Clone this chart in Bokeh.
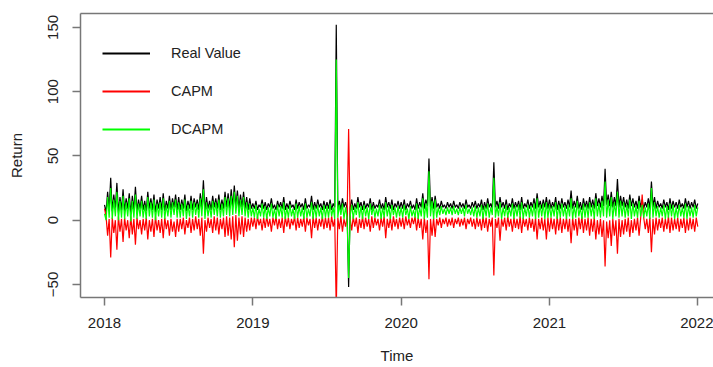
from bokeh.plotting import figure
from bokeh.models import Range1d, FixedTicker, LinearAxis, Legend, LegendItem
from bokeh.embed import file_html
from bokeh.resources import INLINE

# ---- data (one value every 1/96 year from 2018.0) ----
START_YEAR = 2018
STEPS_PER_YEAR = 96

real_value = [
    # 2018 H1
    12, 6, 22, 8, 33, 7, 20, 9, 29, 6, 18, 8,
    24, 7, 17, 9, 21, 5, 19, 8, 26, 7, 16, 9,
    19, 8, 15, 7, 22, 9, 17, 8, 20, 6, 16, 9,
    18, 8, 21, 7, 15, 9, 19, 8, 17, 10, 20, 8,
    # 2018 H2
    18, 8, 16, 9, 20, 7, 15, 9, 19, 8, 17, 10,
    16, 8, 21, 9, 31, 7, 18, 9, 15, 8, 19, 10,
    17, 9, 20, 8, 16, 9, 22, 10, 21, 9, 24, 10,
    27, 11, 23, 9, 20, 10, 22, 9, 18, 8, 17, 9,
    # 2019 H1
    13, 9, 15, 8, 12, 10, 16, 9, 14, 8, 13, 10,
    17, 9, 12, 8, 15, 10, 14, 9, 18, 8, 13, 9,
    15, 10, 12, 8, 16, 9, 14, 10, 13, 8, 17, 9,
    12, 10, 19, 8, 14, 9, 16, 10, 13, 8, 15, 9,
    # 2019 H2
    14, 9, 16, 8, 13, 10, 152, 9, 15, 8, 17, 10,
    14, 9, -52, 10, 16, 8, 13, 9, 18, 10, 14, 8,
    15, 9, 13, 10, 17, 8, 14, 9, 12, 10, 16, 9,
    13, 8, 18, 10, 14, 9, 16, 8, 13, 10, 15, 9,
    # 2020 H1
    14, 9, 16, 8, 13, 10, 15, 9, 12, 8, 17, 9,
    14, 10, 21, 9, 16, 11, 48, 10, 18, 9, 19, 10,
    13, 9, 15, 10, 12, 9, 14, 10, 13, 9, 15, 10,
    12, 9, 14, 10, 13, 9, 16, 10, 12, 9, 14, 10,
    # 2020 H2
    15, 9, 13, 10, 16, 8, 14, 9, 17, 10, 13, 9,
    45, 10, 15, 9, 18, 10, 14, 9, 16, 8, 13, 10,
    17, 9, 14, 10, 15, 8, 18, 9, 13, 10, 16, 9,
    14, 10, 17, 9, 21, 10, 15, 9, 16, 10, 18, 9,
    # 2021 H1
    16, 9, 14, 10, 18, 8, 15, 9, 17, 10, 14, 9,
    16, 10, 23, 9, 15, 10, 19, 9, 14, 8, 17, 10,
    15, 9, 18, 10, 16, 9, 21, 11, 17, 10, 19, 11,
    40, 12, 20, 11, 22, 10, 18, 11, 32, 10, 19, 11,
    # 2021 H2
    18, 10, 16, 9, 20, 11, 17, 10, 15, 9, 19, 10,
    16, 9, 14, 10, 17, 9, 30, 10, 18, 9, 15, 10,
    13, 9, 16, 10, 14, 8, 17, 9, 15, 10, 14, 9,
    16, 10, 13, 9, 17, 10, 15, 9, 14, 10, 16, 9,
    13,
]

capm = [
    # 2018 H1
    9, 3, -12, 1, -29, 2, -10, 0, -23, 3, -9, 1,
    -17, 2, -8, 0, -14, 3, -11, 1, -19, 2, -7, 0,
    -11, 1, -8, 2, -15, 0, -9, 1, -13, 3, -8, 0,
    -10, 1, -14, 2, -7, 0, -12, 1, -9, -1, -13, 1,
    # 2018 H2
    -9, 1, -7, 2, -11, 0, -6, 2, -10, 1, -8, 3,
    -7, 1, -12, 2, -26, 0, -9, 2, -6, 1, -10, 3,
    -8, 2, -11, 1, -7, 2, -13, 3, -12, 2, -15, 3,
    -21, 4, -16, 2, -11, 3, -13, 2, -9, 1, -8, 2,
    # 2019 H1
    -5, 2, -7, 3, -4, 1, -8, 2, -6, 3, -5, 1,
    -9, 2, -4, 3, -7, 1, -6, 2, -10, 3, -5, 2,
    -7, 1, -4, 3, -8, 2, -6, 1, -5, 3, -9, 2,
    -4, 1, -14, 3, -6, 2, -8, 1, -5, 3, -7, 2,
    # 2019 H2
    -6, 2, -8, 3, -5, 1, -70, 2, -7, 3, -9, 1,
    -5, 2, 71, 1, -8, 3, -5, 2, -10, 1, -6, 3,
    -7, 2, -5, 1, -9, 3, -6, 2, -4, 1, -8, 2,
    -5, 3, -14, 1, -6, 2, -8, 3, -5, 1, -7, 2,
    # 2020 H1
    -5, 2, -7, 3, -4, 1, -6, 2, -3, 3, -8, 2,
    -6, 1, -15, 2, -10, 0, -46, 1, -12, 2, -13, 1,
    -4, 2, -6, 1, -3, 2, -5, 1, -4, 2, -6, 1,
    -3, 2, -5, 1, -4, 2, -7, 1, -3, 2, -5, 1,
    # 2020 H2
    -7, 2, -5, 1, -8, 3, -6, 2, -9, 1, -5, 2,
    -43, 1, -6, 2, -16, 1, -5, 2, -8, 3, -5, 1,
    -9, 2, -6, 1, -7, 3, -10, 2, -5, 1, -8, 2,
    -6, 1, -9, 2, -15, 1, -7, 2, -8, 1, -15, 2,
    # 2021 H1
    -9, 2, -7, 1, -11, 3, -8, 2, -10, 1, -7, 2,
    -9, 1, -18, 2, -8, 1, -12, 2, -7, 3, -10, 1,
    -8, 2, -12, 1, -9, 2, -15, 0, -11, 1, -13, 0,
    -36, -1, -14, 0, -20, 1, -12, 0, -26, 1, -13, 0,
    # 2021 H2
    -11, 1, -9, 2, -13, 0, -10, 1, -8, 2, -12, 1,
    20, 2, -7, 1, -10, 2, -25, 1, -11, 2, -8, 1,
    -6, 2, -9, 1, -7, 3, -10, 2, -8, 1, -7, 2,
    -9, 1, -6, 2, -10, 1, -8, 2, -7, 1, -9, 2,
    -5,
]

dcapm = [
    # 2018 H1
    5, 0, 18, 2, 25, 1, 16, 3, 22, 0, 15, 2,
    19, 1, 14, 3, 17, -1, 15, 2, 20, 1, 13, 3,
    15, 2, 12, 1, 18, 3, 14, 2, 16, 0, 13, 3,
    14, 2, 17, 1, 12, 3, 15, 2, 14, 4, 16, 2,
    # 2018 H2
    14, 2, 13, 3, 16, 1, 12, 3, 15, 2, 14, 4,
    13, 2, 17, 3, 24, 1, 14, 3, 12, 2, 15, 4,
    14, 3, 16, 2, 13, 3, 18, 4, 17, 3, 19, 4,
    22, 5, 19, 3, 16, 4, 18, 3, 14, 2, 13, 3,
    # 2019 H1
    10, 2, 12, 1, 9, 3, 13, 2, 11, 1, 10, 3,
    13, 2, 9, 1, 12, 3, 11, 2, 14, 1, 10, 2,
    12, 3, 9, 1, 13, 2, 11, 3, 10, 1, 13, 2,
    9, 3, 14, 1, 11, 2, 12, 3, 10, 1, 12, 2,
    # 2019 H2
    11, 2, 13, 3, 10, 1, 125, 2, 12, 4, 13, 1,
    10, 2, -45, 3, 12, 1, 10, 4, 14, 2, 11, 1,
    12, 3, 10, 1, 13, 4, 11, 2, 9, 3, 12, 1,
    10, 2, 14, 3, 11, 1, 12, 4, 10, 2, 11, 3,
    # 2020 H1
    10, 2, 12, 4, 9, 1, 11, 3, 8, 2, 13, 1,
    10, 3, 17, 1, 13, 2, 38, 3, 15, 1, 16, 2,
    10, 4, 11, 5, 9, 4, 10, 5, 10, 4, 11, 5,
    9, 4, 10, 5, 10, 3, 12, 5, 9, 4, 10, 3,
    # 2020 H2
    11, 2, 10, 3, 12, 1, 11, 3, 13, 2, 10, 4,
    33, 2, 11, 3, 14, 1, 10, 3, 12, 2, 10, 3,
    13, 1, 11, 3, 12, 2, 14, 1, 10, 3, 12, 2,
    11, 3, 13, 1, 17, 2, 12, 3, 13, 1, 14, 2,
    # 2021 H1
    12, 2, 11, 3, 14, 1, 12, 2, 13, 3, 11, 1,
    12, 3, 17, 1, 11, 2, 15, 3, 10, 1, 13, 2,
    12, 2, 14, 3, 12, 1, 17, 3, 13, 2, 15, 3,
    30, 2, 16, 3, 18, 1, 14, 3, 22, 2, 15, 3,
    # 2021 H2
    14, 2, 12, 3, 16, 1, 13, 3, 11, 2, 15, 3,
    12, 2, 10, 3, 13, 1, 25, 2, 14, 3, 11, 2,
    10, 3, 12, 1, 11, 2, 13, 3, 12, 1, 10, 2,
    12, 3, 10, 2, 13, 1, 11, 3, 10, 2, 12, 3,
    10,
]

series_labels = ["Real Value", "CAPM", "DCAPM"]
series_colors = ["black", "#ff0000", "#00ff00"]
x_ticks = [2018, 2019, 2020, 2021, 2022]
y_ticks = [-50, 0, 50, 100, 150]

n = min(len(real_value), len(capm), len(dcapm))
time = [START_YEAR + i / STEPS_PER_YEAR for i in range(n)]
series = [real_value[:n], capm[:n], dcapm[:n]]

# ---- figure ----
FONT = "Liberation Sans"
GRAY = "#777777"
TXT = "#222222"

p = figure(width=713, height=367, output_backend="svg", toolbar_location=None,
           x_range=Range1d(2017.838, 2022.106), y_range=Range1d(-60.15, 160.8),
           min_border_left=80, min_border_right=0, min_border_top=13,
           min_border_bottom=70, background_fill_color="white",
           border_fill_color="white")
p.outline_line_color = None
p.grid.visible = False

for ax in (p.xaxis[0], p.yaxis[0]):
    ax.axis_line_color = GRAY
    ax.axis_line_width = 1.5
    ax.major_tick_line_color = GRAY
    ax.major_tick_line_width = 1.5
    ax.major_tick_in = 0
    ax.major_tick_out = 8
    ax.minor_tick_line_color = None
    ax.major_label_text_font = FONT
    ax.major_label_text_font_size = "15px"
    ax.major_label_text_color = TXT
    ax.axis_label_text_font = FONT
    ax.axis_label_text_font_size = "15px"
    ax.axis_label_text_font_style = "normal"
    ax.axis_label_text_color = TXT

p.xaxis.ticker = FixedTicker(ticks=x_ticks)
p.yaxis.ticker = FixedTicker(ticks=y_ticks)
p.xaxis.axis_label = "Time"
p.yaxis.axis_label = "Return"
p.xaxis.major_label_standoff = 12
p.xaxis.axis_label_standoff = 16
p.yaxis.major_label_standoff = 14
p.yaxis.axis_label_standoff = 21
p.yaxis.major_label_orientation = "vertical"

top = LinearAxis(ticker=FixedTicker(ticks=[]), axis_line_color=GRAY,
                 axis_line_width=1.5, major_tick_line_color=None,
                 minor_tick_line_color=None, major_label_text_font_size="0px",
                 major_label_standoff=0)
p.add_layout(top, "above")

# plotted series (drawn in the order of the original: real, CAPM, DCAPM)
for vals, col in zip(series, series_colors):
    p.line(time, vals, line_color=col, line_width=1.2)

# legend swatches: hidden copies of the same series drawn a bit thicker
proxies = [p.line(time, vals, line_color=col, line_width=2, visible=False)
           for vals, col in zip(series, series_colors)]

legend = Legend(items=[LegendItem(label=lab, renderers=[r])
                       for lab, r in zip(series_labels, proxies)],
                location=(22, 158), padding=0, margin=0, spacing=18,
                glyph_width=48, glyph_height=20, label_height=20,
                label_standoff=21, background_fill_alpha=0,
                border_line_alpha=0, label_text_font=FONT,
                label_text_font_size="14.5px", label_text_color=TXT)
p.add_layout(legend)

open("out.html", "w").write(file_html(p, INLINE))
